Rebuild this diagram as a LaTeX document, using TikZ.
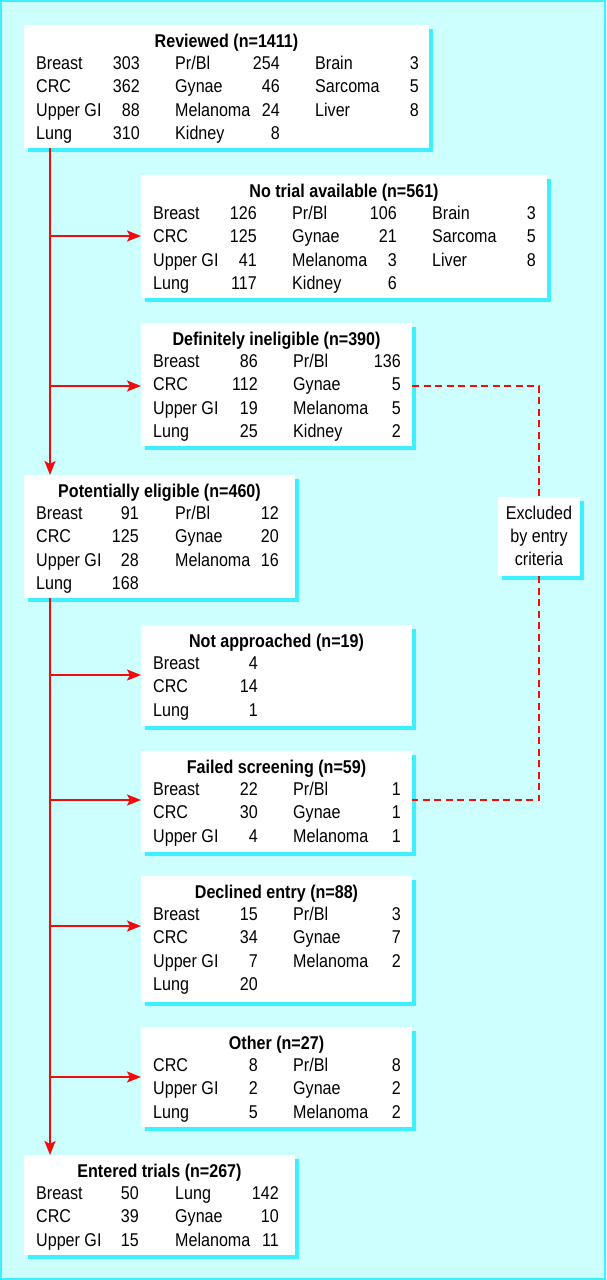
\documentclass[tikz,border=0pt]{standalone}
\usepackage{fontspec}
\setmainfont[FakeStretch=0.87]{Liberation Sans}
\usetikzlibrary{arrows.meta,shadows}
\definecolor{bgc}{RGB}{206,255,255}
\definecolor{shc}{RGB}{60,240,255}
\definecolor{redc}{RGB}{245,10,10}
\tikzset{
  panel/.style={fill=white,draw=none,inner sep=0pt,outer sep=0pt,anchor=north west,
    drop shadow={shadow xshift=4pt,shadow yshift=-4pt,fill=shc,opacity=1}},
  lab/.style={anchor=base west,inner sep=0pt,font=\fontsize{18.5}{21}\selectfont},
  numb/.style={anchor=base east,inner sep=0pt,font=\fontsize{18.5}{21}\selectfont},
  ttl/.style={anchor=base,inner sep=0pt,font=\fontsize{18.5}{21}\selectfont\bfseries},
  ctr/.style={anchor=base,inner sep=0pt,font=\fontsize{18.5}{21}\selectfont},
  flow/.style={draw=redc,line width=2pt},
  flowarrow/.style={flow,-{Stealth[length=14pt,width=11pt,inset=3pt]}},
  excl/.style={draw=redc,line width=2.5pt,dash pattern=on 7pt off 4.5pt}
}
% row: y, xl, label, xr, number
\newcommand\Rw[5]{\node[lab] at (#2,#1) {#3};\node[numb] at (#4,#1) {#5};}
\begin{document}
\begin{tikzpicture}[x=1pt,y=-1pt]
\useasboundingbox (0,0) rectangle (606,1280);
\fill[bgc] (0,0) rectangle (606,1280);
\draw[shc,line width=2pt] (1,1) rectangle (605,1279);

% ---------- Reviewed ----------
\node[panel,minimum width=405pt,minimum height=123pt] (rev) at (24,25) {};
\begin{scope}[shift={(24,25)}]
\node[ttl] (revt) at (202.5,22) {Reviewed (n=1411)};
\Rw{44.5}{12}{Breast}{116}{303}\Rw{44.5}{151}{Pr/Bl}{256}{254}\Rw{44.5}{291}{Brain}{395}{3}
\Rw{67.8}{12}{CRC}{116}{362}\Rw{67.8}{151}{Gynae}{256}{46}\Rw{67.8}{291}{Sarcoma}{395}{5}
\Rw{91.1}{12}{Upper GI}{116}{88}\Rw{91.1}{151}{Melanoma}{256}{24}\Rw{91.1}{291}{Liver}{395}{8}
\Rw{114.4}{12}{Lung}{116}{310}\Rw{114.4}{151}{Kidney}{256}{8}
\end{scope}

% ---------- No trial ----------
\node[panel,minimum width=406pt,minimum height=123pt] (notr) at (141,175) {};
\begin{scope}[shift={(141,175)}]
\node[ttl] at (203,22) {No trial available (n=561)};
\Rw{44.5}{12}{Breast}{116}{126}\Rw{44.5}{151}{Pr/Bl}{256}{106}\Rw{44.5}{291}{Brain}{395}{3}
\Rw{67.8}{12}{CRC}{116}{125}\Rw{67.8}{151}{Gynae}{256}{21}\Rw{67.8}{291}{Sarcoma}{395}{5}
\Rw{91.1}{12}{Upper GI}{116}{41}\Rw{91.1}{151}{Melanoma}{256}{3}\Rw{91.1}{291}{Liver}{395}{8}
\Rw{114.4}{12}{Lung}{116}{117}\Rw{114.4}{151}{Kidney}{256}{6}
\end{scope}

% ---------- Definitely ineligible ----------
\node[panel,minimum width=271pt,minimum height=123pt] (inel) at (141,323) {};
\begin{scope}[shift={(141,323)}]
\node[ttl] at (135.5,22) {Definitely ineligible (n=390)};
\Rw{44.5}{12}{Breast}{117}{86}\Rw{44.5}{152}{Pr/Bl}{260}{136}
\Rw{67.8}{12}{CRC}{117}{112}\Rw{67.8}{152}{Gynae}{260}{5}
\Rw{91.1}{12}{Upper GI}{117}{19}\Rw{91.1}{152}{Melanoma}{260}{5}
\Rw{114.4}{12}{Lung}{117}{25}\Rw{114.4}{152}{Kidney}{260}{2}
\end{scope}

% ---------- Potentially eligible ----------
\node[panel,minimum width=271pt,minimum height=123pt] (pot) at (24,475) {};
\begin{scope}[shift={(24,475)}]
\node[ttl] at (135.5,22) {Potentially eligible (n=460)};
\Rw{44.5}{12}{Breast}{115}{91}\Rw{44.5}{151}{Pr/Bl}{255}{12}
\Rw{67.8}{12}{CRC}{115}{125}\Rw{67.8}{151}{Gynae}{255}{20}
\Rw{91.1}{12}{Upper GI}{115}{28}\Rw{91.1}{151}{Melanoma}{255}{16}
\Rw{114.4}{12}{Lung}{115}{168}
\end{scope}

% ---------- Excluded ----------
\node[panel,minimum width=82pt,minimum height=79pt] (exc) at (498,497) {};
\node[ctr] at (539,519) {Excluded};
\node[ctr] at (539,542.3) {by entry};
\node[ctr] at (539,565.6) {criteria};

% ---------- Not approached ----------
\node[panel,minimum width=271pt,minimum height=101pt] (nap) at (141,625) {};
\begin{scope}[shift={(141,625)}]
\node[ttl] at (135.5,22) {Not approached (n=19)};
\Rw{44.5}{12}{Breast}{117}{4}
\Rw{67.8}{12}{CRC}{117}{14}
\Rw{91.1}{12}{Lung}{117}{1}
\end{scope}

% ---------- Failed screening ----------
\node[panel,minimum width=271pt,minimum height=101pt] (fail) at (141,751) {};
\begin{scope}[shift={(141,751)}]
\node[ttl] at (135.5,22) {Failed screening (n=59)};
\Rw{44.5}{12}{Breast}{117}{22}\Rw{44.5}{152}{Pr/Bl}{260}{1}
\Rw{67.8}{12}{CRC}{117}{30}\Rw{67.8}{152}{Gynae}{260}{1}
\Rw{91.1}{12}{Upper GI}{117}{4}\Rw{91.1}{152}{Melanoma}{260}{1}
\end{scope}

% ---------- Declined entry ----------
\node[panel,minimum width=271pt,minimum height=126pt] (decl) at (141,876) {};
\begin{scope}[shift={(141,876)}]
\node[ttl] at (135.5,22) {Declined entry (n=88)};
\Rw{44.5}{12}{Breast}{117}{15}\Rw{44.5}{152}{Pr/Bl}{260}{3}
\Rw{67.8}{12}{CRC}{117}{34}\Rw{67.8}{152}{Gynae}{260}{7}
\Rw{91.1}{12}{Upper GI}{117}{7}\Rw{91.1}{152}{Melanoma}{260}{2}
\Rw{114.4}{12}{Lung}{117}{20}
\end{scope}

% ---------- Other ----------
\node[panel,minimum width=271pt,minimum height=100pt] (oth) at (141,1027) {};
\begin{scope}[shift={(141,1027)}]
\node[ttl] at (135.5,22) {Other (n=27)};
\Rw{44.5}{12}{CRC}{117}{8}\Rw{44.5}{152}{Pr/Bl}{260}{8}
\Rw{67.8}{12}{Upper GI}{117}{2}\Rw{67.8}{152}{Gynae}{260}{2}
\Rw{91.1}{12}{Lung}{117}{5}\Rw{91.1}{152}{Melanoma}{260}{2}
\end{scope}

% ---------- Entered trials ----------
\node[panel,minimum width=271pt,minimum height=100pt] (ent) at (24,1155) {};
\begin{scope}[shift={(24,1155)}]
\node[ttl] at (135.5,22) {Entered trials (n=267)};
\Rw{44.5}{12}{Breast}{115}{50}\Rw{44.5}{151}{Lung}{255}{142}
\Rw{67.8}{12}{CRC}{115}{39}\Rw{67.8}{151}{Gynae}{255}{10}
\Rw{91.1}{12}{Upper GI}{115}{15}\Rw{91.1}{151}{Melanoma}{255}{11}
\end{scope}

% ---------- connectors ----------
\coordinate (v1a) at (50,148);
\coordinate (v1b) at (50,475);
\draw[flowarrow] (v1a) -- (v1b);
\coordinate (b1) at (50,236);
\coordinate (b2) at (50,386);
\draw[flowarrow] (b1) -- (b1 -| notr.west);
\draw[flowarrow] (b2) -- (b2 -| inel.west);

\coordinate (v2a) at (50,598);
\coordinate (v2b) at (50,1155);
\draw[flowarrow] (v2a) -- (v2b);
\coordinate (b3) at (50,675);
\coordinate (b4) at (50,800);
\coordinate (b5) at (50,926);
\coordinate (b6) at (50,1077);
\draw[flowarrow] (b3) -- (b3 -| nap.west);
\draw[flowarrow] (b4) -- (b4 -| fail.west);
\draw[flowarrow] (b5) -- (b5 -| decl.west);
\draw[flowarrow] (b6) -- (b6 -| oth.west);

% dashed exclusion lines
\coordinate (d1) at (412,386);
\coordinate (d2) at (412,800);
\draw[excl] (d1) -| (exc.north);
\draw[excl] (exc.south) |- (d2);
\end{tikzpicture}
\end{document}
